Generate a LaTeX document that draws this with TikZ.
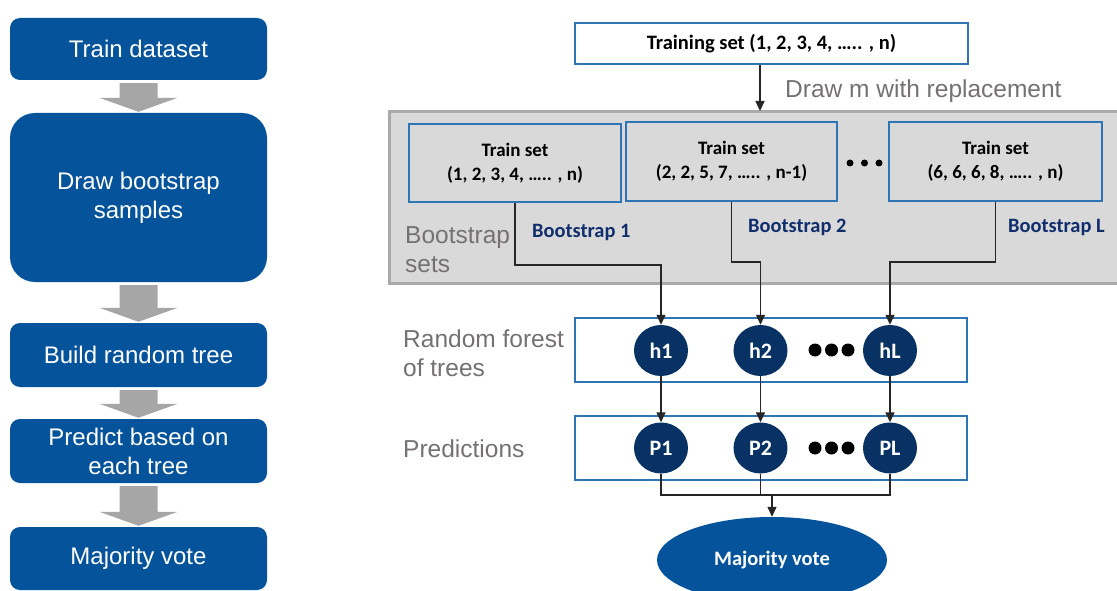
\documentclass[tikz,border=0pt]{standalone}
\usepackage{fontspec}
\setmainfont{Liberation Sans}
\newfontfamily\calfont{Carlito}
\usetikzlibrary{arrows.meta,calc,shapes.geometric}
\definecolor{leftblue}{RGB}{4,83,155}
\definecolor{navy}{RGB}{8,50,100}
\definecolor{boxblue}{RGB}{46,117,182}
\definecolor{gbfill}{RGB}{217,217,217}
\definecolor{gbdraw}{RGB}{170,170,170}
\definecolor{txtgray}{RGB}{118,113,113}
\definecolor{bslabel}{RGB}{16,45,108}
\definecolor{arrgray}{RGB}{166,166,166}
\definecolor{linecol}{RGB}{38,38,38}
\tikzset{
  leftbox/.style={fill=leftblue, text=white, rounded corners=10pt, minimum width=257pt, align=center, inner sep=0pt, font=\fontsize{24}{29}\selectfont},
  whitebox/.style={draw=boxblue, line width=1.5pt, fill=white, inner sep=0pt},
  setbox/.style={draw=boxblue, line width=1.5pt, align=center, inner sep=0pt, minimum height=79pt, font=\calfont\bfseries\fontsize{19}{24}\selectfont},
  tree/.style={ellipse, fill=navy, text=white, minimum width=54pt, minimum height=51pt, inner sep=0pt, font=\calfont\bfseries\fontsize{22}{24}\selectfont},
  bigdot/.style={circle, fill=black, minimum size=13pt, inner sep=0pt},
  smalldot/.style={circle, fill=black, minimum size=7pt, inner sep=0pt},
  graylabel/.style={text=txtgray, anchor=base west, inner sep=0pt, align=left, font=\fontsize{24.5}{29}\selectfont},
  bslab/.style={text=bslabel, anchor=base west, inner sep=0pt, font=\calfont\bfseries\fontsize{20.4}{24}\selectfont},
  conn/.style={draw=linecol, line width=1.4pt},
  arr/.style={conn, -{Triangle[width=9pt,length=10pt]}}
}
\newcommand\grayarr[2]{\fill[arrgray] ($(#1.south)+(-19,3)$) -- ($(#1.south)+(19,3)$) -- ($(#2.north)+(19,-15)$) -- ($(#2.north)+(39,-15)$) -- ($(#2.north)+(0,-1)$) -- ($(#2.north)+(-39,-15)$) -- ($(#2.north)+(-19,-15)$) -- cycle;}
\begin{document}
\begin{tikzpicture}[x=1pt,y=-1pt]
\useasboundingbox (0,0) rectangle (1117,591);
\fill[white] (0,0) rectangle (1117,591);
% left flow
\node[leftbox, minimum height=62pt] (l1) at (138.5,49) {Train dataset};
\node[leftbox, minimum height=169pt, rounded corners=25pt] (l2) at (138.5,197.5) {Draw bootstrap\\samples};
\node[leftbox, minimum height=64pt] (l3) at (138.5,355) {Build random tree};
\node[leftbox, minimum height=64pt] (l4) at (138.5,451) {Predict based on\\each tree};
\node[leftbox, minimum height=63pt] (l5) at (138.5,558.5) {Majority vote};
\grayarr{l1}{l2}
\grayarr{l2}{l3}
\grayarr{l3}{l4}
\grayarr{l4}{l5}
% right
\node[whitebox, minimum width=393pt, minimum height=41pt, font=\calfont\bfseries\fontsize{20.5}{24}\selectfont] (t) at (771.5,43.5) {Training set (1, 2, 3, 4, ….. , n)};
\node[draw=gbdraw, line width=3pt, fill=gbfill, minimum width=736pt, minimum height=171pt, inner sep=0pt] (gb) at (757,197.5) {};
\coordinate (ga) at (760,111);
\draw[arr] (t.south -| ga) -- (ga);
\node[graylabel] (dm) at (785,98) {Draw m with replacement};
\node[setbox, minimum width=212pt, minimum height=78pt] (b1) at (515,163) {Train set\\(1, 2, 3, 4, ….. , n)};
\node[setbox, minimum width=211pt] (b2) at (731.5,161.5) {Train set\\(2, 2, 5, 7, ….. , n-1)};
\node[setbox, minimum width=213pt] (b3) at (995.5,161.5) {Train set\\(6, 6, 6, 8, ….. , n)};
\node[smalldot] (d1) at (850,163) {};
\node[smalldot] (d2) at (864.5,163) {};
\node[smalldot] (d3) at (879,163) {};
\node[graylabel] (bsets) at (405,272) {Bootstrap\\sets};
\node[bslab] (bs1) at (532,237) {Bootstrap 1};
\node[bslab] (bs2) at (748,233) {Bootstrap 2};
\node[bslab] (bsL) at (1008,233) {Bootstrap L};
\node[graylabel] (rfl) at (403,376) {Random forest\\of trees};
\node[graylabel] (prl) at (403,457) {Predictions};
\node[whitebox, minimum width=392pt, minimum height=64pt] (rf) at (771,350) {};
\node[whitebox, minimum width=392pt, minimum height=64pt] (pr) at (771,448) {};
\node[tree] (h1) at (661,350.5) {h1};
\node[tree] (h2) at (760.5,350.5) {h2};
\node[tree] (hL) at (890,350.5) {hL};
\node[tree] (P1) at (661,448) {P1};
\node[tree] (P2) at (760.5,448) {P2};
\node[tree] (PL) at (890,448) {PL};
\node[bigdot] (e1) at (815,350) {};
\node[bigdot] (e2) at (831.5,350) {};
\node[bigdot] (e3) at (848,350) {};
\node[bigdot] (f1) at (815,448) {};
\node[bigdot] (f2) at (831.5,448) {};
\node[bigdot] (f3) at (848,448) {};
\draw[arr] (b1.south) -- (b1.south |- 0,265) -| (h1.north);
\draw[arr] (b2.south) -- (b2.south |- 0,262) -| (h2.north);
\draw[arr] (b3.south) -- (b3.south |- 0,262) -| (hL.north);
\draw[arr] (h1) -- (P1);
\draw[arr] (h2) -- (P2);
\draw[arr] (hL) -- (PL);
\node[ellipse, fill=leftblue, text=white, minimum width=230pt, minimum height=86pt, inner sep=0pt, font=\calfont\bfseries\fontsize{20.5}{24}\selectfont] (mv) at (772,560) {Majority vote};
\coordinate (j) at (772,495);
\draw[conn] (P1.south) |- (PL.south |- j) -- (PL.south);
\draw[conn] (P2.south) -- (P2.south |- j);
\draw[arr] (j) -- (mv);
\end{tikzpicture}
\end{document}
